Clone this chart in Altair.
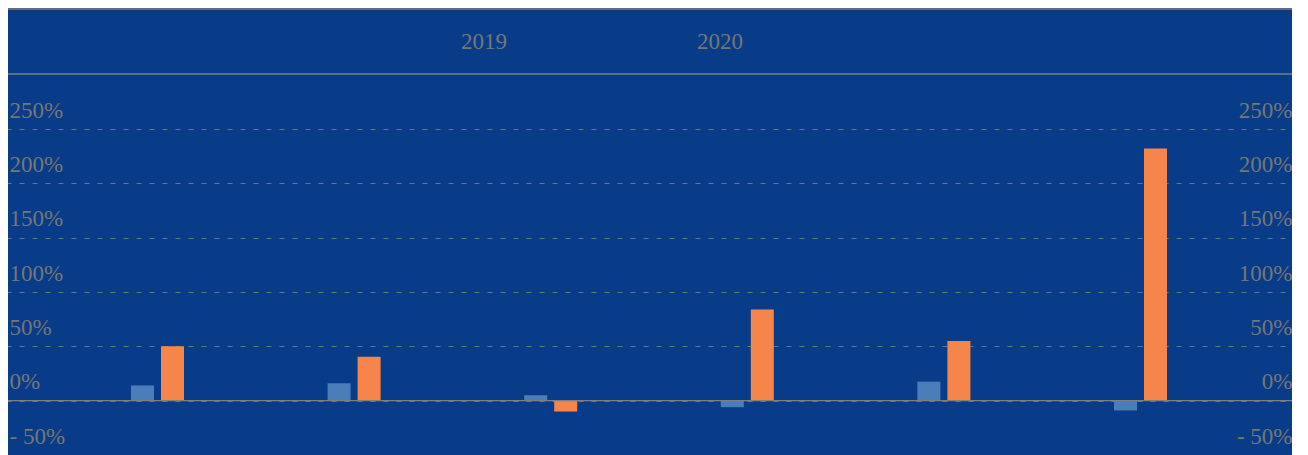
import altair as alt
import pandas as pd

categories = ["1", "2", "3", "4", "5", "6"]
series = ["2019", "2020"]
values_2019 = [14, 16, 5, -6, 17.5, -9]
values_2020 = [50, 40.5, -10, 84, 55, 232]
y_ticks = [-50, 0, 50, 100, 150, 200, 250]

rows = []
for c, a, b in zip(categories, values_2019, values_2020):
    rows.append({"cat": c, "series": "2019", "value": a})
    rows.append({"cat": c, "series": "2020", "value": b})
df = pd.DataFrame(rows)

BG = "#083C88"
TXT = "#767676"
GRID = "#7F7F7F"
FONT = "Liberation Serif"
FS = 23
W, H = 1284, 326

label_expr = "datum.value < 0 ? '- ' + abs(datum.value) + '%' : datum.value + '%'"
yscale = alt.Scale(domain=[-50, 250], nice=False, zero=False)

left_axis = alt.Axis(orient="left", values=y_ticks, labelExpr=label_expr, title=None,
                     ticks=False, tickSize=0, domain=False, grid=True, gridDash=[5, 8],
                     gridColor=GRID, gridOpacity=0.85, gridWidth=1.2,
                     labelAlign="left", labelPadding=-1, labelBaseline="alphabetic",
                     labelOffset=-12, labelFont=FONT, labelFontSize=FS, labelColor=TXT,
                     labelOverlap=False)
right_axis = alt.Axis(orient="right", values=y_ticks, labelExpr=label_expr, title=None,
                      ticks=False, tickSize=0, domain=False, grid=False,
                      labelAlign="right", labelPadding=0, labelBaseline="alphabetic",
                      labelOffset=-12, labelFont=FONT, labelFontSize=FS, labelColor=TXT,
                      labelOverlap=False)

legend = alt.Legend(orient="none", legendX=430, legendY=-99, direction="horizontal",
                    title=None, symbolSize=0, symbolOpacity=0, symbolStrokeWidth=0,
                    labelFont=FONT, labelFontSize=FS, labelColor=TXT,
                    columnPadding=167, labelOffset=0)

bars = alt.Chart(df).mark_bar().encode(
    x=alt.X("cat:N", sort=categories, axis=None,
            scale=alt.Scale(range=[-2, W], paddingInner=0.7304, paddingOuter=0.6358)),
    xOffset=alt.XOffset("series:N", sort=series,
                        scale=alt.Scale(paddingInner=0.2333, paddingOuter=0)),
    y=alt.Y("value:Q", scale=yscale, axis=left_axis),
    color=alt.Color("series:N", sort=series,
                    scale=alt.Scale(domain=series, range=["#4A7EB9", "#F5854A"]),
                    legend=legend),
)

zero = alt.Chart(pd.DataFrame({"v": [0]})).mark_rule(color=GRID, strokeWidth=1.3).encode(
    y=alt.Y("v:Q", scale=yscale, axis=right_axis)
)

frame_top = alt.Chart(pd.DataFrame({"k": [0]})).mark_rule(color=GRID, strokeWidth=1.3).encode(
    x=alt.value(-2), x2=alt.value(W), y=alt.value(-120)
)
frame_bot = alt.Chart(pd.DataFrame({"k": [0]})).mark_rule(color=GRID, strokeWidth=1.3).encode(
    x=alt.value(-2), x2=alt.value(W), y=alt.value(-55)
)

chart = alt.layer(bars, zero, frame_top, frame_bot).resolve_axis(y="independent").properties(
    width=W, height=H,
    autosize=alt.AutoSizeParams(type="none"),
    padding={"left": 0, "top": 121, "right": 0, "bottom": 0},
    background=BG,
).configure_view(stroke=None)

chart.save("out.html", embed_options={"renderer": "svg", "actions": False})
